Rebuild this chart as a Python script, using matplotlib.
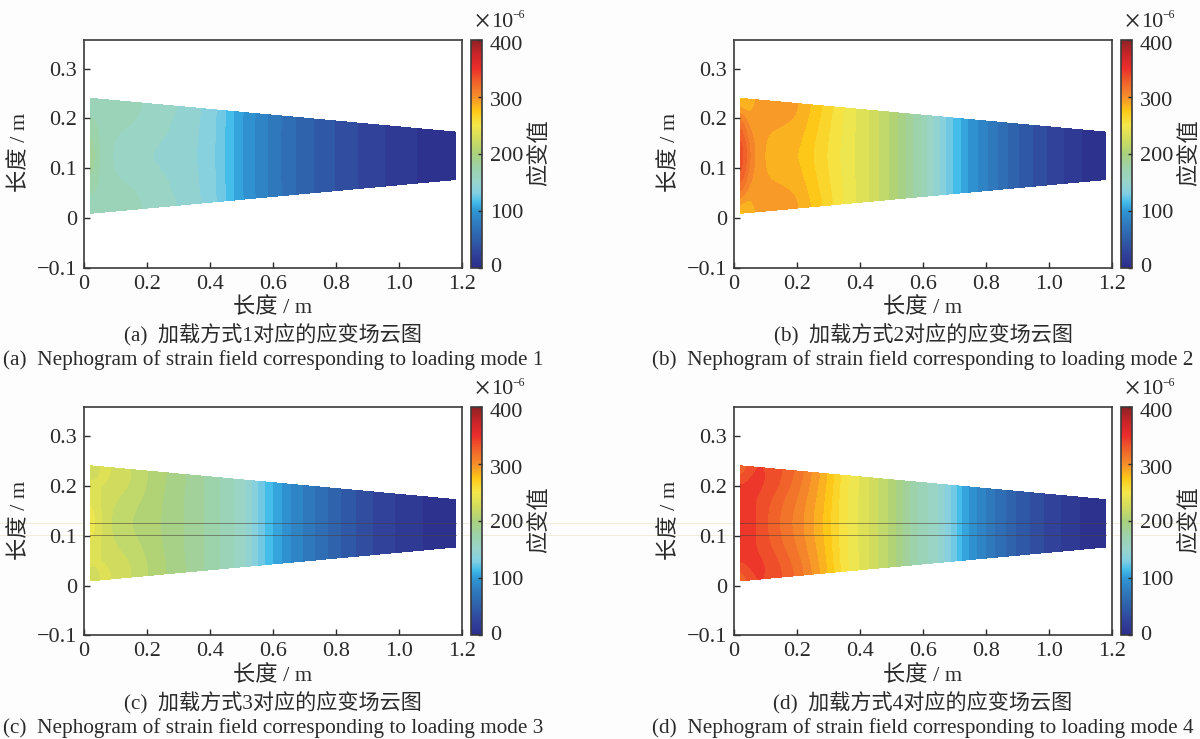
import numpy as np
import matplotlib
matplotlib.use("Agg")
import matplotlib.pyplot as plt
from matplotlib.colors import LinearSegmentedColormap, Normalize
from matplotlib.cm import ScalarMappable
from matplotlib.lines import Line2D
from matplotlib.transforms import ScaledTranslation

FONT = ['Liberation Serif', 'Noto Sans CJK SC']
plt.rcParams['font.family'] = FONT
plt.rcParams['axes.unicode_minus'] = True

W, H = 1200, 739
INK = '#2a2a2a'

# ---- data ----
x_stations = [0.02, 0.04, 0.07, 0.12, 0.20, 0.28, 0.35, 0.42, 0.50, 0.58, 0.66, 0.74, 0.82, 0.90, 1.00, 1.10, 1.18]
eta_rows = [0.0, 0.1, 0.3, 0.5, 0.7, 0.9, 1.0]
outline_x = [0.02, 1.18]
outline_top = [0.24, 0.172]
outline_bottom = [0.01, 0.078]

a_edge = [160, 163, 170, 168, 158, 152, 144, 131, 101, 81, 62, 48, 36, 26, 15, 6, 2]
a_near = [165, 168, 172, 168, 157, 150, 143, 130, 100, 80, 62, 48, 36, 26, 15, 6, 2]
a_in   = [182, 168, 163, 158, 152, 149, 142, 130, 100, 80, 62, 48, 36, 26, 15, 6, 2]
a_mid  = [195, 172, 163, 155, 150, 148, 141, 129, 100, 80, 62, 48, 36, 26, 15, 6, 2]

b_edge = [270, 275, 290, 298, 292, 270, 249, 232, 207, 175, 135, 100, 75, 50, 28, 10, 2]
b_near = [300, 285, 295, 298, 290, 268, 248, 232, 207, 175, 135, 100, 75, 50, 28, 10, 2]
b_in   = [335, 305, 295, 288, 284, 265, 247, 232, 207, 175, 135, 100, 75, 50, 28, 10, 2]
b_mid  = [345, 320, 295, 285, 280, 263, 246, 232, 207, 175, 135, 100, 75, 50, 28, 10, 2]

c_edge = [225, 228, 232, 225, 210, 197, 186, 172, 155, 116, 88, 68, 48, 32, 18, 7, 2]
c_near = [228, 230, 232, 226, 210, 196, 185, 172, 155, 116, 88, 68, 48, 32, 18, 7, 2]
c_in   = [240, 232, 225, 216, 207, 195, 185, 172, 155, 116, 88, 68, 48, 32, 18, 7, 2]
c_mid  = [250, 238, 222, 212, 205, 195, 185, 172, 155, 116, 88, 68, 48, 32, 18, 7, 2]

d_edge = [310, 325, 340, 338, 318, 287, 254, 232, 205, 170, 145, 100, 72, 48, 26, 9, 2]
d_near = [335, 342, 345, 338, 315, 285, 253, 232, 205, 170, 145, 100, 72, 48, 26, 9, 2]
d_in   = [350, 342, 340, 328, 308, 282, 252, 232, 205, 170, 145, 100, 72, 48, 26, 9, 2]
d_mid  = [352, 345, 340, 325, 305, 280, 252, 232, 205, 170, 145, 100, 72, 48, 26, 9, 2]

x_ticks = [0, 0.2, 0.4, 0.6, 0.8, 1.0, 1.2]
x_tick_labels = ['0', '0.2', '0.4', '0.6', '0.8', '1.0', '1.2']
y_ticks = [-0.1, 0, 0.1, 0.2, 0.3]
y_tick_labels = ['\u22120.1', '0', '0.1', '0.2', '0.3']
cbar_ticks = [0, 100, 200, 300, 400]
axis_label = '长度 / m'
cbar_label = '应变值'
captions_cn = ['(a)  加载方式1对应的应变场云图', '(b)  加载方式2对应的应变场云图',
               '(c)  加载方式3对应的应变场云图', '(d)  加载方式4对应的应变场云图']
captions_en = ['(a)  Nephogram of strain field corresponding to loading mode 1',
               '(b)  Nephogram of strain field corresponding to loading mode 2',
               '(c)  Nephogram of strain field corresponding to loading mode 3',
               '(d)  Nephogram of strain field corresponding to loading mode 4']
fields = [[a_edge, a_near, a_in, a_mid, a_in, a_near, a_edge],
          [b_edge, b_near, b_in, b_mid, b_in, b_near, b_edge],
          [c_edge, c_near, c_in, c_mid, c_in, c_near, c_edge],
          [d_edge, d_near, d_in, d_mid, d_in, d_near, d_edge]]
scan_lines_y = [0.1257, 0.1024]   # thin horizontal scan lines in panels c and d

cmap_vals = [0, 25, 50, 75, 100, 115, 130, 150, 175, 200, 225, 250, 275, 300, 330, 350, 375, 400]
cmap_cols = ['#2c2e8c', '#30429a', '#2f5fa9', '#2f78bb', '#2f98d5', '#45bdea', '#82cfe3', '#98d4cc',
             '#9dd3ab', '#a9d17c', '#d0dc5e', '#f4e84a', '#fdc918', '#f58e2b', '#ef5a2a', '#ec2c2b',
             '#c82428', '#8a2225']

# ---- drawing ----
cmap = LinearSegmentedColormap.from_list('strain', [(v / 400, c) for v, c in zip(cmap_vals, cmap_cols)], N=512)
norm = Normalize(0, 400)
levels = np.arange(0, 401, 10)

fig = plt.figure(figsize=(W / 100, H / 100), dpi=100, facecolor='#fdfdfd')

def box(x0, y0, x1, y1):
    return [x0 / W, 1 - y1 / H, (x1 - x0) / W, (y1 - y0) / H]

def smooth(a, n, axis):
    """moving average along one axis, with edge padding"""
    kernel = np.ones(2 * n + 1) / (2 * n + 1)
    f = lambda v: np.convolve(np.pad(v, n, mode='edge'), kernel, mode='valid')
    return np.apply_along_axis(f, axis, a)

def render_field(rows):
    """resample the read-off table for drawing only, so the contour bands come out rounded"""
    table = np.array(rows, dtype=float)
    fine_x = np.linspace(x_stations[0], x_stations[-1], 349)
    fine_e = np.linspace(0, 1, 61)
    by_x = np.array([np.interp(fine_x, x_stations, r) for r in table])
    z = np.array([np.interp(fine_e, eta_rows, c) for c in by_x.T]).T
    for _ in range(2):
        z = smooth(smooth(z, 4, 1), 4, 0)
    return fine_x, fine_e, z

lefts = [84, 734, 84, 734]
tops = [39.5, 39.5, 407, 407]
fs = 16

for i in range(4):
    L, T = lefts[i], tops[i]
    R, B = L + 378, T + 228.3
    ax = fig.add_axes(box(L, T, R, B))
    ax.set_facecolor('white')
    ax.set_xlim(0, 1.2)
    ax.set_ylim(-0.1, 0.3587)

    fx, fe, Z = render_field(fields[i])
    top = np.interp(fx, outline_x, outline_top)
    bot = np.interp(fx, outline_x, outline_bottom)
    X = np.tile(fx, (len(fe), 1))
    Y = np.array([bot + e * (top - bot) for e in fe])
    cs = ax.contourf(X, Y, Z, levels=levels, cmap=cmap, norm=norm, extend='both')
    cs.set_edgecolor('face')
    cs.set_linewidth(0.4)

    ax.set_xticks(x_ticks, x_tick_labels)
    ax.set_yticks(y_ticks, y_tick_labels)
    ax.tick_params(direction='in', length=4.5, width=1.0, color=INK, labelsize=fs,
                   labelcolor=INK, top=False, right=False)
    ax.tick_params(axis='x', pad=5)
    ax.tick_params(axis='y', pad=5)
    for s in ax.spines.values():
        s.set_linewidth(1.2)
        s.set_color('#3a3a3a')

    if i >= 2:
        for yy in scan_lines_y:
            ax.plot(outline_x, [yy, yy], color='#4a4038', lw=0.7, alpha=0.55, zorder=3)
            py = T + (0.3587 - yy) / (0.4587) * 228.3
            fig.add_artist(Line2D([0, 1], [1 - py / H, 1 - py / H], color='#f0ecd6', lw=0.5, zorder=0))

    # axis labels placed by figure position
    fig.text((L + R) / 2 / W, 1 - (B + 40.5) / H, axis_label, ha='center', va='center', fontsize=fs, color=INK)
    fig.text((L - 64) / W, 1 - (T + 113) / H, axis_label, rotation=90, ha='center', va='center',
             fontsize=fs, color=INK)

    # colour bar
    cax = fig.add_axes(box(R + 9, T, R + 19.5, B))
    cb = fig.colorbar(ScalarMappable(norm=norm, cmap=cmap), cax=cax)
    cb.set_ticks(cbar_ticks)
    cb.outline.set_linewidth(1.2)
    cb.outline.set_edgecolor('#3a3a3a')
    cax.tick_params(direction='in', length=3, width=1.0, color=INK, labelsize=fs, labelcolor=INK, pad=6)
    for lab, dy in zip(cax.get_yticklabels(), [2.5, 0, 0, -2.5, -3.5]):
        lab.set_transform(lab.get_transform() + ScaledTranslation(0, dy / 72 * 0.72, fig.dpi_scale_trans))
    fig.text((R + 78) / W, 1 - (T + 113) / H, cbar_label, rotation=90, ha='center', va='center',
             fontsize=fs, color=INK)

    fig.text((R + 12) / W, 1 - (T - 17) / H, '×', ha='left', va='center', fontsize=22, color=INK)
    fig.text((R + 29) / W, 1 - (T - 17) / H, '10', ha='left', va='center', fontsize=fs, color=INK)
    fig.text((R + 50) / W, 1 - (T - 24) / H, '\u22126', ha='left', va='center', fontsize=8.5, color=INK)

    # captions
    cx = (L + R) / 2
    ymid_cn = 335.5 if i < 2 else 703.5
    ymid_en = 360 if i < 2 else 728
    fig.text(cx / W, 1 - ymid_cn / H, captions_cn[i], ha='center', va='center', fontsize=15.2, color=INK)
    fig.text(cx / W, 1 - ymid_en / H, captions_en[i], ha='center', va='center', fontsize=15.3, color=INK)

fig.savefig('out.png', dpi=100, facecolor=fig.get_facecolor())
